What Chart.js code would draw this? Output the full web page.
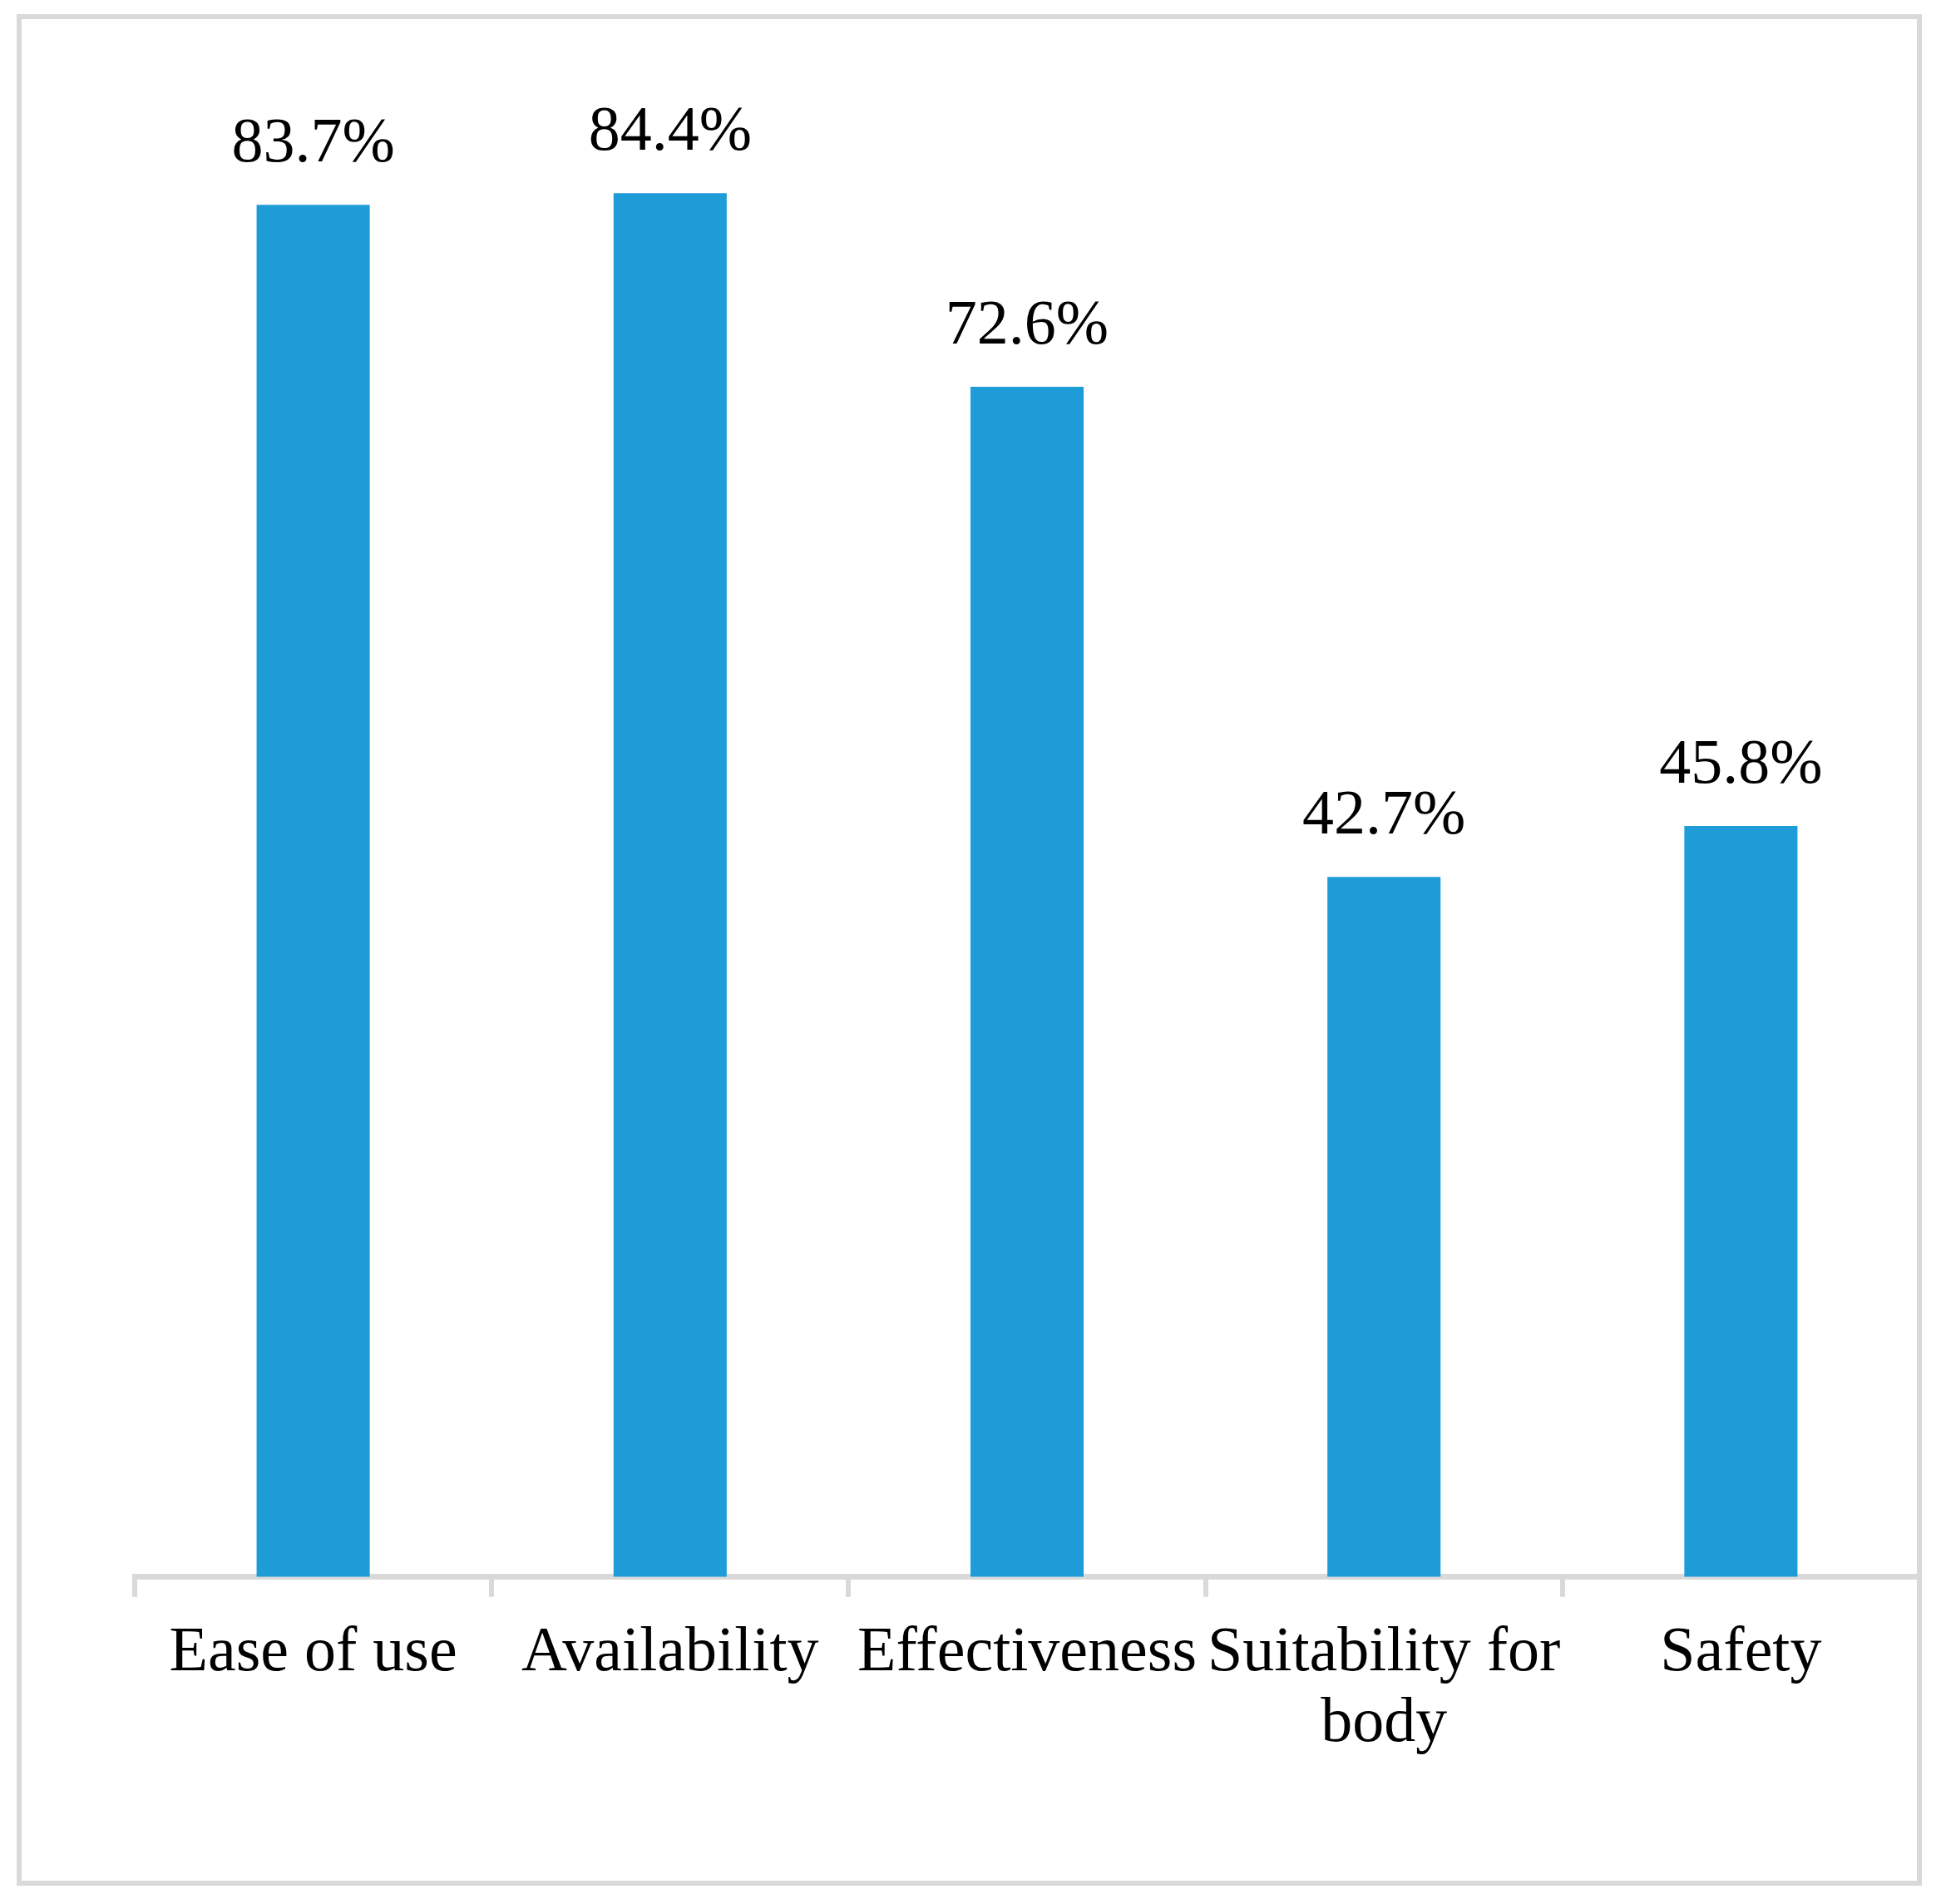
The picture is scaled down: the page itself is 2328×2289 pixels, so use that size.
<!DOCTYPE html>
<html>
<head>
<meta charset="utf-8">
<script src="https://cdn.jsdelivr.net/npm/chart.js@4.4.1/dist/chart.umd.min.js"></script>
<style>
  html, body { margin: 0; padding: 0; background: #fff; }
  #frame {
    position: absolute; left: 20px; top: 17px;
    width: 2291px; height: 2250px;
    box-sizing: border-box;
    border: 6px solid #d9d9d9;
  }
  #chart { position: absolute; left: 0; top: 0; }
</style>
</head>
<body>
<div id="frame"></div>
<canvas id="chart" width="2328" height="2289"></canvas>
<script>
// chart data
const categories = ['Ease of use', 'Availability', 'Effectiveness', ['Suitability for', 'body'], 'Safety'];
const values     = [83.7, 84.4, 72.6, 42.7, 45.8];
const yRange     = [0, 90];

const FONT = "'Liberation Serif', 'Times New Roman', serif";

// ── value labels above each bar ─────────────────
const barLabels = {
  id: 'barLabels',
  afterDatasetsDraw(chart) {
    const c = chart.ctx;
    const meta = chart.getDatasetMeta(0);
    c.save();
    c.font = '76px ' + FONT;
    c.fillStyle = '#000';
    c.textAlign = 'center';
    c.textBaseline = 'alphabetic';
    meta.data.forEach((bar, i) => {
      c.fillText(values[i].toFixed(1) + '%', bar.x, bar.y - 52);
    });
    c.restore();
  }
};

new Chart(document.getElementById('chart').getContext('2d'), {
  type: 'bar',
  data: {
    labels: categories,
    datasets: [{
      data: values,
      backgroundColor: '#1e9cd8',
      borderWidth: 0,
      barPercentage: 1,
      categoryPercentage: 0.317,
    }],
  },
  options: {
    responsive: false,
    devicePixelRatio: 1,
    animation: false,
    layout: { padding: { left: 162, right: 20, top: 122, bottom: 147 } },
    plugins: {
      legend: { display: false },
      tooltip: { enabled: false },
    },
    scales: {
      y: { display: false, min: yRange[0], max: yRange[1] },
      x: {
        offset: true,
        grid: {
          offset: true,
          drawOnChartArea: false,
          drawTicks: true,
          tickLength: 24,
          color: '#d9d9d9',
          lineWidth: 6,
        },
        border: { display: true, color: '#d9d9d9', width: 7 },
        ticks: {
          color: '#000',
          font: { family: FONT, size: 76, lineHeight: 1.12 },
          padding: 26,
          maxRotation: 0,
          autoSkip: false,
        },
      },
    },
  },
  plugins: [barLabels],
});
</script>
</body>
</html>
